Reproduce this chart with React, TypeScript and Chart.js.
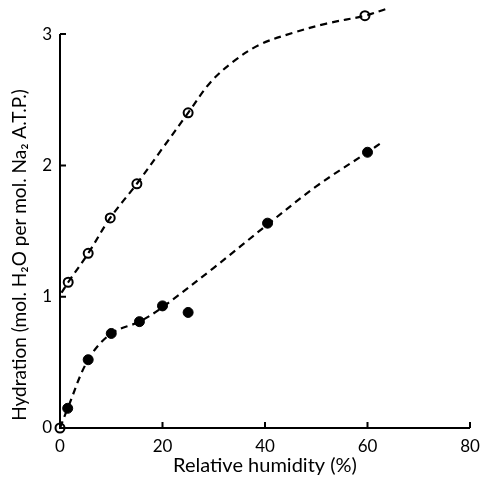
import React, { useEffect, useRef } from "react";
import { Chart, registerables } from "chart.js";

Chart.register(...registerables);

// Open circles (upper series)
const openX = [0, 1.6, 5.5, 9.8, 15, 25, 59.5];
const openY = [0, 1.11, 1.33, 1.6, 1.86, 2.4, 3.14];
// Filled circles (lower series)
const filledX = [1.5, 5.5, 10, 15.5, 20, 25, 40.5, 60];
const filledY = [0.15, 0.52, 0.72, 0.81, 0.93, 0.88, 1.56, 2.1];
// Fitted dashed curves
const openCurveX = [0.3, 1.6, 5.5, 9.8, 15, 20, 25, 29.3, 33.8, 39, 45.5, 52, 59.5, 63.5];
const openCurveY = [1.03, 1.11, 1.33, 1.6, 1.86, 2.13, 2.4, 2.63, 2.79, 2.92, 3.01, 3.08, 3.14, 3.19];
const filledCurveX = [0, 1.5, 5.5, 10, 15.5, 20, 30, 40.5, 50, 60, 63];
const filledCurveY = [0, 0.15, 0.52, 0.72, 0.81, 0.92, 1.22, 1.55, 1.84, 2.1, 2.18];

const xTicks = [0, 20, 40, 60, 80];
const yTicks = [0, 1, 2, 3];
const yTitle = "Hydration (mol. H\u2082O per mol. Na\u2082 A.T.P.)";
const xTitle = "Relative humidity (%)";

const FONT = "Lato, 'DejaVu Sans', sans-serif";

const pts = (xs: number[], ys: number[]) => xs.map((x, i) => ({ x, y: ys[i] }));

export default function App() {
  const ref = useRef<HTMLCanvasElement>(null);
  useEffect(() => {
    document.body.style.margin = "0";
    const axesPlugin = {
      id: "axesPlugin",
      afterDraw(chart: any) {
        const ctx = chart.ctx;
        const xs = chart.scales.x;
        const ys = chart.scales.y;
        const area = chart.chartArea;
        const top = ys.getPixelForValue(3);
        ctx.save();
        ctx.strokeStyle = "#000";
        ctx.lineWidth = 2;
        ctx.beginPath();
        ctx.moveTo(area.left, top);
        ctx.lineTo(area.left, area.bottom);
        ctx.lineTo(area.right, area.bottom);
        ctx.stroke();
        ctx.beginPath();
        xTicks.forEach((v) => {
          const px = xs.getPixelForValue(v);
          ctx.moveTo(px, area.bottom);
          ctx.lineTo(px, area.bottom - 6);
        });
        yTicks.forEach((v) => {
          const py = ys.getPixelForValue(v);
          ctx.moveTo(area.left, py);
          ctx.lineTo(area.left + 6, py);
        });
        ctx.stroke();
        // y title
        ctx.translate(20, 255);
        ctx.rotate(-Math.PI / 2);
        ctx.fillStyle = "#000";
        ctx.font = `19px ${FONT}`;
        ctx.textAlign = "center";
        ctx.textBaseline = "middle";
        ctx.fillText(yTitle, 0, 0);
        ctx.restore();
      },
    };
    const lineStyle = {
      type: "line",
      borderColor: "#000",
      borderWidth: 2.2,
      borderDash: [7, 5],
      pointRadius: 0,
      tension: 0.35,
      fill: false,
      clip: false,
    };
    const chart = new Chart(ref.current!, {
      type: "scatter",
      data: {
        datasets: [
          { ...lineStyle, data: pts(openCurveX, openCurveY) } as any,
          { ...lineStyle, data: pts(filledCurveX, filledCurveY) } as any,
          {
            data: pts(filledX, filledY),
            pointRadius: 5,
            pointBackgroundColor: "#000",
            pointBorderColor: "#000",
            pointBorderWidth: 1,
            clip: false,
          } as any,
          {
            data: pts(openX, openY),
            pointRadius: 4.5,
            pointBackgroundColor: "#fff",
            pointBorderColor: "#000",
            pointBorderWidth: 2,
            clip: false,
          } as any,
        ],
      },
      options: {
        animation: false,
        responsive: false,
        layout: { padding: { top: 2, right: 11, left: 0, bottom: 0 } },
        plugins: { legend: { display: false }, tooltip: { enabled: false } },
        scales: {
          x: {
            type: "linear",
            min: 0,
            max: 80,
            afterFit: (s: any) => {
              s.height = 50;
              s.paddingLeft = 0;
              s.paddingRight = 0;
            },
            grid: { display: false, drawTicks: false },
            border: { display: false },
            afterBuildTicks: (s: any) => {
              s.ticks = xTicks.map((v) => ({ value: v }));
            },
            ticks: {
              color: "#000",
              padding: 8,
              font: { family: FONT, size: 17 },
            },
            title: {
              display: true,
              text: xTitle,
              color: "#000",
              font: { family: FONT, size: 20 },
              padding: { top: 0, bottom: 0 },
            },
          },
          y: {
            type: "linear",
            min: 0,
            max: 3.21,
            afterFit: (s: any) => {
              s.width = 60;
              s.paddingTop = 0;
              s.paddingBottom = 0;
            },
            grid: { display: false, drawTicks: false },
            border: { display: false },
            afterBuildTicks: (s: any) => {
              s.ticks = yTicks.map((v) => ({ value: v }));
            },
            ticks: {
              color: "#000",
              padding: 8,
              font: { family: FONT, size: 17 },
            },
            title: { display: false },
          },
        },
      },
      plugins: [axesPlugin],
    } as any);
    return () => chart.destroy();
  }, []);
  return <canvas ref={ref} width={481} height={478} style={{ display: "block" }} />;
}
